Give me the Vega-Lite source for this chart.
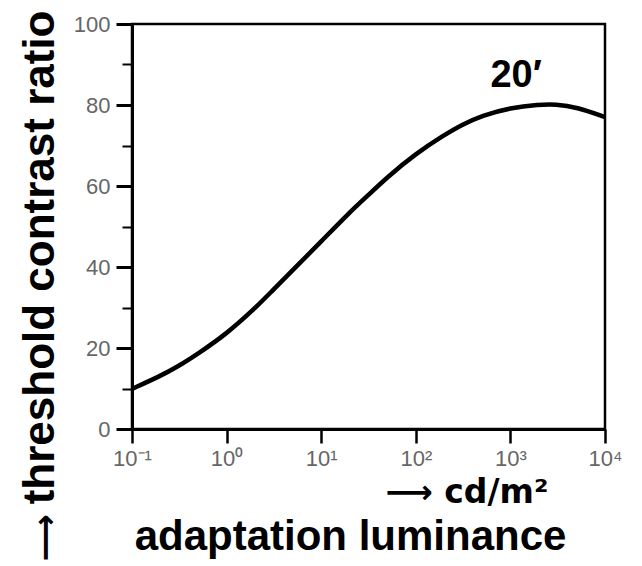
{
  "$schema": "https://vega.github.io/schema/vega-lite/v6.json",
  "width": 473,
  "height": 405,
  "autosize": "none",
  "padding": {"left": 132, "top": 24, "right": 37, "bottom": 137},
  "background": "white",
  "config": {
    "font": "Liberation Sans",
    "view": {"stroke": "black", "strokeWidth": 2.5}
  },
  "datasets": {
    "curve": [
      {"luminance": 0.1, "ratio": 9.9},
      {"luminance": 0.2, "ratio": 13.1},
      {"luminance": 0.3, "ratio": 15.3},
      {"luminance": 0.5, "ratio": 18.6},
      {"luminance": 1, "ratio": 23.5},
      {"luminance": 2, "ratio": 29.8},
      {"luminance": 3, "ratio": 34.0},
      {"luminance": 5, "ratio": 39.2},
      {"luminance": 10, "ratio": 46.3},
      {"luminance": 20, "ratio": 53.5},
      {"luminance": 30, "ratio": 57.3},
      {"luminance": 50, "ratio": 62.2},
      {"luminance": 100, "ratio": 68.0},
      {"luminance": 200, "ratio": 72.6},
      {"luminance": 300, "ratio": 75.0},
      {"luminance": 500, "ratio": 77.4},
      {"luminance": 1000, "ratio": 79.3},
      {"luminance": 2000, "ratio": 80.1},
      {"luminance": 3000, "ratio": 80.2},
      {"luminance": 5000, "ratio": 79.5},
      {"luminance": 10000, "ratio": 77.0}
    ],
    "labels": [
      {"luminance": 1150, "ratio": 84.5, "label": "20′"}
    ]
  },
  "layer": [
    {
      "data": {"name": "curve"},
      "mark": {"type": "line", "color": "black", "strokeWidth": 4.5, "interpolate": "basis", "clip": true},
      "encoding": {
        "x": {
          "field": "luminance",
          "type": "quantitative",
          "scale": {"type": "log", "domain": [0.1, 10000]},
          "axis": {
            "orient": "bottom",
            "values": [0.1, 1, 10, 100, 1000, 10000],
            "labelExpr": "'10' + ['⁻¹','⁰','¹','²','³','⁴'][round(log(datum.value)/LN10)+1]",
            "labelFlush": false,
            "tickSize": 14,
            "tickWidth": 2.5,
            "tickColor": "black",
            "domainColor": "black",
            "domainWidth": 3,
            "labelFontSize": 22,
            "labelColor": "#666666",
            "labelPadding": 5,
            "labelDx": 6,
            "grid": false,
            "title": "adaptation luminance",
            "titleFontSize": 42,
            "titleFontWeight": "bold",
            "titleColor": "black",
            "titleX": 218,
            "titleY": 120,
            "titleAlign": "center",
            "titleBaseline": "alphabetic"
          }
        },
        "y": {
          "field": "ratio",
          "type": "quantitative",
          "scale": {"domain": [0, 100]},
          "axis": {
            "orient": "left",
            "values": [0, 10, 20, 30, 40, 50, 60, 70, 80, 90, 100],
            "labelExpr": "datum.value % 20 === 0 ? datum.label : ''",
            "tickSize": {"condition": {"test": "datum.value % 20 === 0", "value": 16}, "value": 10},
            "tickWidth": {"condition": {"test": "datum.value % 20 === 0", "value": 3}, "value": 2},
            "tickColor": "black",
            "domainColor": "black",
            "domainWidth": 3,
            "labelFontSize": 22,
            "labelColor": "#666666",
            "labelPadding": 6,
            "grid": false,
            "title": "threshold contrast ratio",
            "titleFontSize": 44,
            "titleFontWeight": "bold",
            "titleColor": "black",
            "titleX": -79,
            "titleY": -14,
            "titleAngle": -90,
            "titleAlign": "right",
            "titleBaseline": "alphabetic"
          }
        }
      }
    },
    {
      "data": {"name": "labels"},
      "mark": {"type": "text", "fontSize": 38, "fontWeight": "bold", "align": "center", "baseline": "alphabetic", "color": "black"},
      "encoding": {
        "x": {
          "field": "luminance",
          "type": "quantitative",
          "axis": {
            "orient": "bottom",
            "domain": false,
            "ticks": false,
            "labels": false,
            "grid": false,
            "title": "⟶ cd/m²",
            "titleFont": "DejaVu Sans",
            "titleFontSize": 33,
            "titleFontWeight": "bold",
            "titleColor": "black",
            "titleX": 253,
            "titleY": 73,
            "titleAlign": "left",
            "titleBaseline": "alphabetic"
          }
        },
        "y": {
          "field": "ratio",
          "type": "quantitative",
          "axis": {
            "orient": "left",
            "domain": false,
            "ticks": false,
            "labels": false,
            "grid": false,
            "title": "⟶",
            "titleFont": "DejaVu Sans",
            "titleFontSize": 33,
            "titleFontWeight": "bold",
            "titleColor": "black",
            "titleX": -87,
            "titleY": 537,
            "titleAngle": -90,
            "titleAlign": "left",
            "titleBaseline": "middle"
          }
        },
        "text": {"field": "label"}
      }
    }
  ],
  "resolve": {"axis": {"x": "independent", "y": "independent"}}
}
